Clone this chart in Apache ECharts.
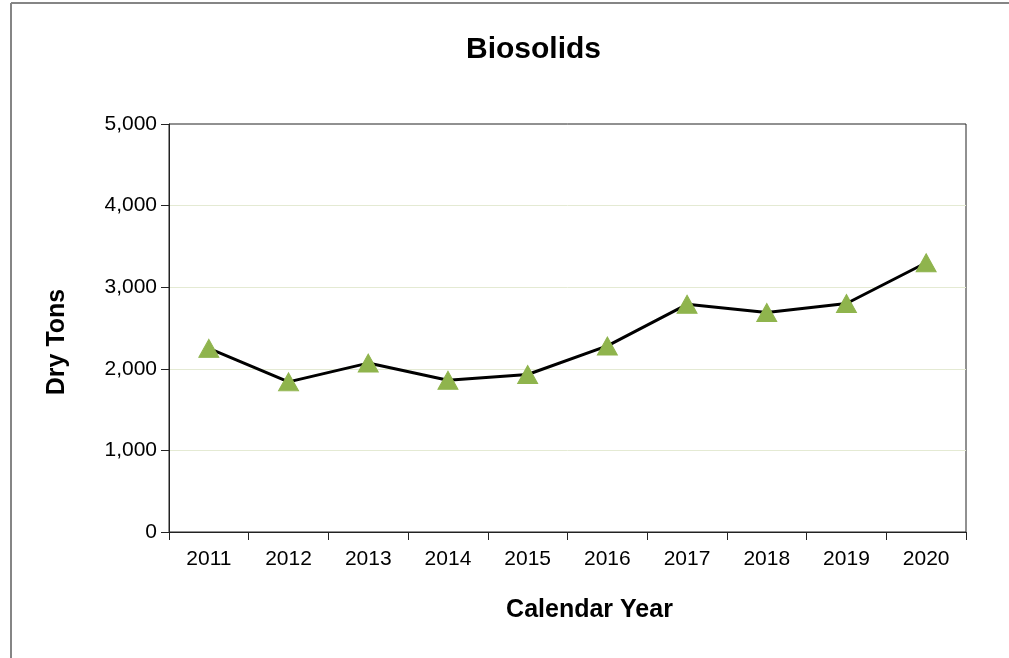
<!DOCTYPE html>
<html>
<head>
<meta charset="utf-8">
<script src="https://cdn.jsdelivr.net/npm/echarts@6/dist/echarts.min.js"></script>
<style>
html,body{margin:0;padding:0;background:#fff;}
#c{width:1009px;height:658px;}
</style>
</head>
<body>
<div id="c"></div>
<script>
const years = ['2011','2012','2013','2014','2015','2016','2017','2018','2019','2020'];
const dryTons = [2250, 1840, 2070, 1860, 1930, 2280, 2790, 2690, 2800, 3300];
const yTicks = [0, 1000, 2000, 3000, 4000, 5000];

const chart = echarts.init(document.getElementById('c'), null, {renderer:'canvas'});
const FONT = '"Liberation Sans", Arial, sans-serif';
chart.setOption({
  animation: false,
  backgroundColor: '#ffffff',
  title: {
    text: 'Biosolids',
    left: 466,
    top: 35,
    padding: 0,
    textStyle: {fontFamily: FONT, fontSize: 30, fontWeight: 'bold', color: '#000'}
  },
  graphic: [
    {type:'line', shape:{x1:11, y1:3, x2:1009, y2:3}, style:{stroke:'#858585', lineWidth:2}},
    {type:'line', shape:{x1:11, y1:3, x2:11, y2:658}, style:{stroke:'#858585', lineWidth:2}}
  ],
  grid: {
    left: 169, right: 43, top: 124, bottom: 126,
    show: true, borderColor: '#222', borderWidth: 1
  },
  xAxis: {
    type: 'category',
    data: years,
    boundaryGap: true,
    name: 'Calendar Year',
    nameLocation: 'middle',
    nameGap: 66,
    nameTextStyle: {fontFamily: FONT, fontSize: 25, fontWeight: 'bold', color: '#000', padding: [0,0,0,44]},
    axisLine: {lineStyle: {color: '#222', width: 1}},
    axisTick: {show: true, length: 8, inside: false, alignWithLabel: false, lineStyle: {color: '#222'}},
    axisLabel: {fontFamily: FONT, fontSize: 21, color: '#000', margin: 17},
    splitLine: {show: false}
  },
  yAxis: {
    type: 'value',
    min: yTicks[0],
    max: yTicks[yTicks.length - 1],
    interval: 1000,
    name: 'Dry Tons',
    nameLocation: 'middle',
    nameGap: 99,
    nameRotate: 90,
    nameTextStyle: {fontFamily: FONT, fontSize: 25, fontWeight: 'bold', color: '#000', padding: [0, 28, 0, 0]},
    axisLine: {show: true, lineStyle: {color: '#222', width: 1}},
    axisTick: {show: true, length: 8, lineStyle: {color: '#222'}},
    axisLabel: {
      fontFamily: FONT, fontSize: 21, color: '#000', margin: 12,
      formatter: v => v.toLocaleString('en-US')
    },
    splitLine: {show: true, showMaxLine: false, showMinLine: false, lineStyle: {color: '#e4ead3', width: 1}}
  },
  series: [{
    type: 'line',
    data: dryTons,
    symbol: 'triangle',
    symbolSize: [20, 18],
    itemStyle: {color: '#8fb44d', borderColor: '#8fb44d'},
    lineStyle: {color: '#000', width: 3},
    z: 3
  }]
});
</script>
</body>
</html>
